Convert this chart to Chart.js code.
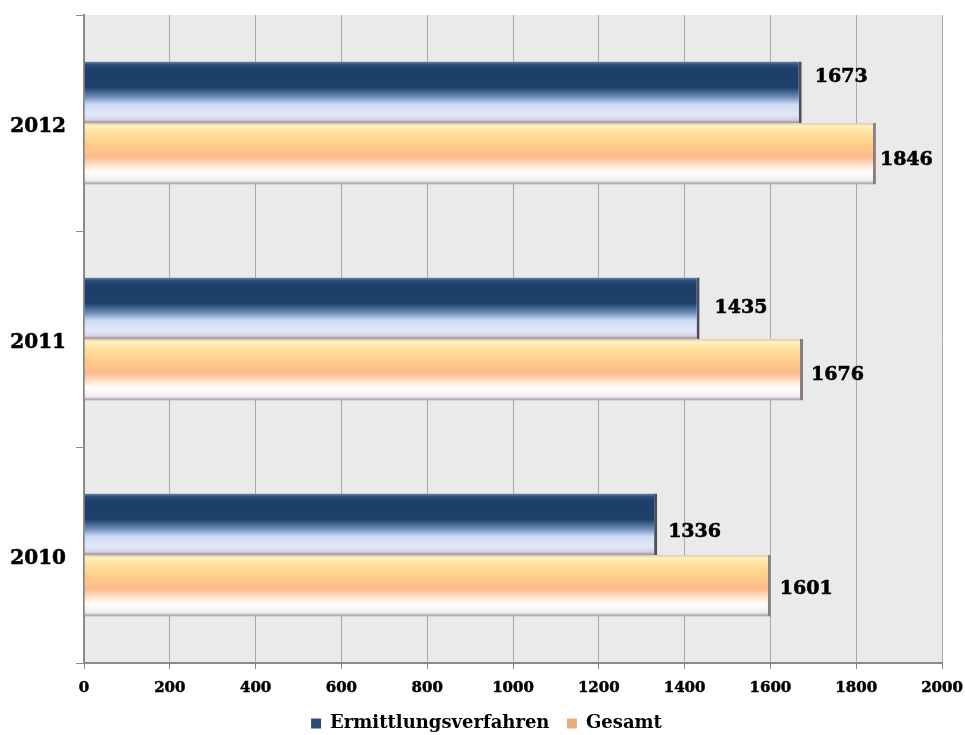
<!DOCTYPE html>
<html>
<head>
<meta charset="utf-8">
<script src="https://cdn.jsdelivr.net/npm/chart.js@4.4.0/dist/chart.umd.min.js"></script>
<style>
  html, body { margin: 0; padding: 0; background: #ffffff; }
  #wrap { width: 965px; height: 735px; position: relative; }
</style>
</head>
<body>
<div id="wrap"><canvas id="chart"></canvas></div>
<script>
// Jahre und Fallzahlen
const categories = ['2012', '2011', '2010'];
const ermittlungsverfahren = [1673, 1435, 1336];
const gesamt = [1846, 1676, 1601];
const xTicks = [0, 200, 400, 600, 800, 1000, 1200, 1400, 1600, 1800, 2000];

const FONT = '"DejaVu Serif", "Liberation Serif", serif';
const CAT_PCT = 0.57;

// Hand-placed value label nudges [dx from bar end, dy from bar centre]
const labelNudge = [
  [[13, -16], [15, -1], [11, 7]],
  [[4, 5], [8, 4], [9, 2]]
];

const blueStops = [
  [0.00, '#6b88b2'], [0.05, '#2e507f'], [0.12, '#1f3f6b'], [0.42, '#1f3f6b'],
  [0.57, '#6a8ab5'], [0.70, '#cfdcf4'], [0.86, '#e2e8fb'], [0.94, '#d8d2e4'], [1.00, '#9c96a2']
];
const orangeStops = [
  [0.00, '#e9c49c'], [0.05, '#fff4c4'], [0.13, '#ffe3a4'], [0.32, '#fdd089'],
  [0.55, '#fdb98c'], [0.70, '#ffe6d6'], [0.80, '#ffffff'], [0.93, '#f2eef1'], [1.00, '#9c96a0']
];

// Vertical gradient spanning exactly one bar, located from the category scale
function barGradient(ctx, stops) {
  const chart = ctx.chart;
  const area = chart.chartArea;
  const yScale = chart.scales.y;
  if (!area || !yScale) return stops[3][1];
  const center = yScale.getPixelForValue(ctx.dataIndex);
  const catH = (area.bottom - area.top) / categories.length;
  const thick = catH * CAT_PCT / 2;
  const top = ctx.datasetIndex === 0 ? center - thick : center;
  const g = chart.ctx.createLinearGradient(0, top, 0, top + thick);
  stops.forEach(s => g.addColorStop(s[0], s[1]));
  return g;
}

// Grey plot background
const plotBackground = {
  id: 'plotBackground',
  beforeDraw(chart) {
    const { ctx, chartArea: a } = chart;
    ctx.save();
    ctx.fillStyle = '#eaeaea';
    ctx.fillRect(a.left, a.top, a.right - a.left, a.bottom - a.top);
    ctx.restore();
  }
};

// Value labels to the right of each bar
const valueLabels = {
  id: 'valueLabels',
  afterDatasetsDraw(chart) {
    const { ctx } = chart;
    ctx.save();
    ctx.font = 'bold 19px ' + FONT;
    ctx.fillStyle = '#000000';
    ctx.strokeStyle = '#000000';
    ctx.lineWidth = 0.6;
    ctx.textAlign = 'left';
    ctx.textBaseline = 'middle';
    chart.data.datasets.forEach((ds, di) => {
      const meta = chart.getDatasetMeta(di);
      meta.data.forEach((bar, i) => {
        const [dx, dy] = labelNudge[di][i];
        const txt = String(ds.data[i]);
        ctx.fillText(txt, bar.x + dx, bar.y + dy + 1);
        ctx.strokeText(txt, bar.x + dx, bar.y + dy + 1);
      });
    });
    ctx.restore();
  }
};

function draw() {
  new Chart(document.getElementById('chart'), {
    type: 'bar',
    data: {
      labels: categories,
      datasets: [
        {
          label: 'Ermittlungsverfahren',
          data: ermittlungsverfahren,
          backgroundColor: ctx => barGradient(ctx, blueStops),
          borderColor: '#4a4e5e',
          borderWidth: { top: 0, left: 0, bottom: 0, right: 3 },
          borderSkipped: false,
          legendColor: '#2c4a76'
        },
        {
          label: 'Gesamt',
          data: gesamt,
          backgroundColor: ctx => barGradient(ctx, orangeStops),
          borderColor: '#8a7f7c',
          borderWidth: { top: 0, left: 0, bottom: 0, right: 3 },
          borderSkipped: false,
          legendColor: '#e7ae80'
        }
      ]
    },
    options: {
      indexAxis: 'y',
      responsive: true,
      maintainAspectRatio: false,
      animation: false,
      datasets: { bar: { categoryPercentage: CAT_PCT, barPercentage: 1.0 } },
      layout: { padding: { top: 15, left: 8, right: 0, bottom: -7.5 } },
      scales: {
        x: {
          min: 0,
          max: 2000,
          afterBuildTicks(scale) { scale.ticks = xTicks.map(v => ({ value: v })); },
          afterFit(scale) {
            scale.height = 34;
            scale.paddingLeft = 0;
            scale.paddingRight = 23;
          },
          grid: {
            color: '#a9a9a9',
            lineWidth: 1,
            drawTicks: true,
            tickLength: 6,
            tickColor: '#8a8a8a'
          },
          border: { color: '#8a8a8a', width: 2 },
          ticks: {
            padding: 10,
            color: '#000000',
            textStrokeColor: '#000000',
            textStrokeWidth: 0.5,
            font: { family: FONT, size: 15, weight: 'bold' },
            maxRotation: 0,
            callback: v => String(v)
          }
        },
        y: {
          afterFit(scale) {
            scale.width = 76;
            scale.paddingTop = 0;
            scale.paddingBottom = 0;
          },
          grid: {
            offset: true,
            drawOnChartArea: false,
            drawTicks: true,
            tickLength: 8,
            tickColor: '#8a8a8a'
          },
          border: { color: '#8a8a8a', width: 2 },
          ticks: {
            padding: 10,
            labelOffset: 4,
            color: '#000000',
            textStrokeColor: '#000000',
            textStrokeWidth: 0.6,
            font: { family: FONT, size: 20, weight: 'bold' }
          }
        }
      },
      plugins: {
        legend: {
          position: 'bottom',
          labels: {
            boxWidth: 10,
            boxHeight: 10,
            padding: 17.5,
            color: '#000000',
            font: { family: FONT, size: 18, weight: 'bold' },
            generateLabels(chart) {
              return chart.data.datasets.map((ds, i) => ({
                text: ds.label,
                fillStyle: ds.legendColor,
                strokeStyle: ds.legendColor,
                lineWidth: 0,
                hidden: false,
                datasetIndex: i,
                fontColor: '#000000'
              }));
            }
          }
        },
        tooltip: { enabled: false }
      }
    },
    plugins: [plotBackground, valueLabels]
  });
}

// Make sure the serif face is ready before the canvas paints text
Promise.all([
  document.fonts.load('bold 18px "DejaVu Serif"'),
  document.fonts.load('bold 20px "DejaVu Serif"')
]).then(draw, draw);
</script>
</body>
</html>
